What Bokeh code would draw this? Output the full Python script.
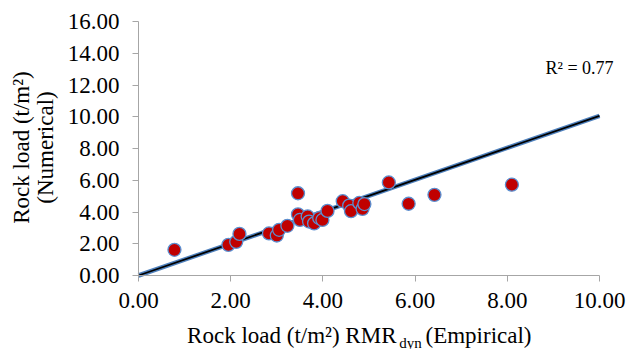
import math
from bokeh.plotting import figure
from bokeh.models import Range1d, FixedTicker, NumeralTickFormatter, Label
from bokeh.embed import file_html
from bokeh.resources import INLINE

# Data
empirical = [0.78, 1.95, 2.12, 2.19, 2.83, 3.00, 3.05, 3.23, 3.46, 3.46, 3.50, 3.67, 3.70,
             3.81, 3.92, 3.99, 4.10, 4.43, 4.57, 4.61, 4.79, 4.86, 4.90, 5.43, 5.86, 6.42, 8.10]
numerical = [1.62, 1.93, 2.12, 2.62, 2.65, 2.52, 2.88, 3.13, 5.18, 3.85, 3.50, 3.72, 3.40,
             3.28, 3.62, 3.50, 4.07, 4.68, 4.40, 4.05, 4.57, 4.20, 4.50, 5.86, 4.52, 5.08, 5.72]
trend_x = [0.0, 10.0]
trend_y = [0.0, 10.05]
x_ticks = [0, 2, 4, 6, 8, 10]
y_ticks = [0, 2, 4, 6, 8, 10, 12, 14, 16]
r2_text = "R\u00b2 = 0.77"
xlabel_main = "Rock load (t/m\u00b2) RMR"
xlabel_sub = "dyn"
xlabel_tail = "(Empirical)"
ylabel_1 = "Rock load (t/m\u00b2)"
ylabel_2 = "(Numerical)"

FONT = "Liberation Serif"
W, H = 630, 349
# pixel positions of the plotting area (axes box) inside the canvas
LEFT, RIGHT, TOP, BOTTOM = 138, 599, 21, 275
XMAX, YMAX = 10.0, 16.0
xs = (RIGHT - LEFT) / XMAX
ys = (BOTTOM - TOP) / YMAX

p = figure(width=W, height=H, output_backend="svg", toolbar_location=None,
           x_range=Range1d(-LEFT / xs, (W - LEFT) / xs),
           y_range=Range1d(-(H - BOTTOM) / ys, BOTTOM / ys),
           min_border=0, x_axis_location="below", y_axis_location="left")
p.min_border_left = 0
p.min_border_right = 0
p.min_border_top = 0
p.min_border_bottom = 0
p.outline_line_color = None
p.grid.visible = False
p.background_fill_color = "white"
p.border_fill_color = "white"

def dx(px):
    return (px - LEFT) / xs
def dy(py):
    return (BOTTOM - py) / ys

for ax in (p.xaxis[0], p.yaxis[0]):
    ax.fixed_location = 0
    ax.axis_line_color = "#A6A6A6"
    ax.major_tick_line_color = "#A6A6A6"
    ax.minor_tick_line_color = None
    ax.major_tick_out = 6
    ax.major_tick_in = 0
    ax.major_label_text_font = FONT
    ax.major_label_text_font_size = "23px"
    ax.major_label_text_color = "black"
    ax.formatter = NumeralTickFormatter(format="0.00")
p.xaxis[0].ticker = FixedTicker(ticks=x_ticks)
p.yaxis[0].ticker = FixedTicker(ticks=y_ticks)
p.xaxis[0].bounds = (0, XMAX)
p.yaxis[0].bounds = (0, YMAX)
p.xaxis[0].major_label_standoff = 11
p.yaxis[0].major_label_standoff = 13

# trendline (blue glow with black core)
p.line(trend_x, trend_y, line_color="#4F81BD", line_width=4.5)
p.line(trend_x, trend_y, line_color="black", line_width=1.8)

p.scatter(empirical, numerical, size=13, fill_color="#C00000",
          line_color="#5B8FD0", line_width=1.3)

def lab(text, px, py, size, align="left", baseline="middle", angle=0.0):
    p.add_layout(Label(x=dx(px), y=dy(py), text=text, text_font=FONT,
                       text_font_size=size, text_align=align,
                       text_baseline=baseline, angle=angle, text_color="black"))

lab(r2_text, 545, 67, "18px")
lab(xlabel_main, 396, 335, "23px", align="right")
lab(xlabel_sub, 410, 342, "15px", align="center")
lab(xlabel_tail, 425, 335, "23px", align="left")
lab(ylabel_1, 21, 147, "23px", align="center", angle=math.pi / 2)
lab(ylabel_2, 45, 147, "23px", align="center", angle=math.pi / 2)

open("out.html", "w").write(file_html(p, INLINE))
